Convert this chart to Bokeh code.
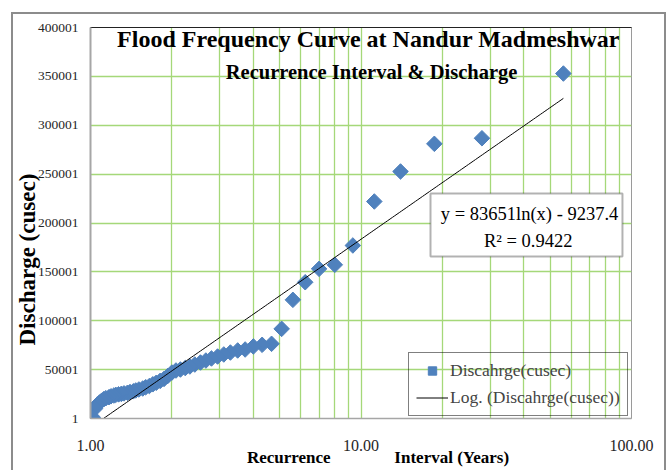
import numpy as np
from bokeh.plotting import figure
from bokeh.models import (FixedTicker, NumeralTickFormatter, Label, BoxAnnotation,
                          Legend, LegendItem, Range1d, LogAxis, Title)
from bokeh.embed import file_html
from bokeh.resources import INLINE

# ---------------- data ----------------
recurrence = [56.00, 28.00, 18.67, 14.00, 11.20, 9.33, 8.00, 7.00, 6.22, 5.60,
              5.09, 4.67, 4.31, 4.00, 3.73, 3.50, 3.29, 3.11, 2.95, 2.80,
              2.67, 2.55, 2.43, 2.33, 2.24, 2.15, 2.07, 2.00, 1.93, 1.87,
              1.81, 1.75, 1.70, 1.65, 1.60, 1.56, 1.51, 1.47, 1.44, 1.40,
              1.37, 1.33, 1.30, 1.27, 1.24, 1.22, 1.19, 1.17, 1.14, 1.12,
              1.10, 1.08, 1.06, 1.04, 1.02]
discharge = [352900, 286700, 281000, 252700, 222000, 177000, 157200, 153100, 139400, 121400,
             91700, 76400, 75400, 73700, 70600, 69600, 67500, 65500, 63400, 61400,
             59300, 57300, 55200, 53200, 51600, 50100, 49100, 47000, 43500, 40500,
             38500, 36500, 35000, 33200, 32000, 30700, 29700, 28700, 27800, 27000,
             26300, 25700, 25200, 24700, 24200, 23500, 22700, 21800, 20800, 19800,
             18200, 16400, 14300, 10200, 1200]
y_ticks = [1, 50001, 100001, 150001, 200001, 250001, 300001, 350001, 400001]
x_ticks = [1, 10, 100]
x_minor = [2, 3, 4, 5, 6, 7, 8, 9, 20, 30, 40, 50, 60, 70, 80, 90]
trend_a = 83651
trend_b = -9237.4
r_squared = 0.9422

SERIF = "Liberation Serif"
GRID = "#a5d879"
BLUE = "#4F81BD"
NB = "\u00a0"

p = figure(width=651, height=456, x_axis_type="log",
           x_range=Range1d(1, 100), y_range=Range1d(1, 400001),
           output_backend="svg", toolbar_location=None,
           min_border_left=77, min_border_top=13, min_border_right=33, min_border_bottom=52)
p.margin = (14, 0, 0, 13)
p.styles = {"outline": "2px solid #8c8c8c"}
p.background_fill_color = "white"
p.border_fill_color = "white"
p.outline_line_color = "#9a9a9a"
p.outline_line_width = 1

# axes
p.xaxis.ticker = FixedTicker(ticks=x_ticks, minor_ticks=x_minor)
p.xaxis.formatter = NumeralTickFormatter(format="0.00")
p.yaxis.ticker = FixedTicker(ticks=y_ticks)
p.yaxis.formatter = NumeralTickFormatter(format="0")
for ax in (p.xaxis, p.yaxis):
    ax.major_tick_line_color = None
    ax.minor_tick_line_color = None
    ax.major_tick_out = 0
    ax.major_tick_in = 0
    ax.major_label_text_font = SERIF
    ax.major_label_text_color = "#262626"
p.xaxis.axis_line_color = "#a6a6a6"
p.xaxis.axis_line_width = 1.5
p.yaxis.axis_line_color = "#a6a6a6"
p.yaxis.axis_line_width = 2
p.xaxis.major_label_text_font_size = "16px"
p.xaxis.major_label_standoff = 17
p.yaxis.major_label_text_font_size = "13.5px"
p.yaxis.major_label_standoff = 12

# x-axis title: two pieces around the "10.00" tick label
p.xaxis.axis_label = NB * 8 + "Recurrence" + NB * 15 + "Interval (Years)"
p.xaxis.axis_label_text_font = SERIF
p.xaxis.axis_label_text_font_style = "bold"
p.xaxis.axis_label_text_font_size = "17px"
p.xaxis.axis_label_text_color = "black"
p.xaxis.axis_label_standoff = -6

# y-axis title
p.add_layout(Title(text="Discharge (cusec)", align="left", offset=73, standoff=-11,
                   text_font=SERIF, text_font_style="bold", text_font_size="23px",
                   text_color="black"), "left")

top_axis = LogAxis(ticker=FixedTicker(ticks=[]), axis_line_color="#222222", axis_line_width=1,
                   major_tick_line_color=None, minor_tick_line_color=None,
                   major_label_text_font_size="0px")
p.add_layout(top_axis, "above")

# grid
p.xgrid.grid_line_color = GRID
p.xgrid.grid_line_width = 1.3
p.xgrid.minor_grid_line_color = GRID
p.xgrid.minor_grid_line_width = 1.3
p.ygrid.grid_line_color = GRID
p.ygrid.grid_line_width = 1.3

# data
sc = p.scatter(recurrence, discharge, marker="square", angle=np.pi / 4, size=11,
               fill_color=BLUE, line_color=BLUE)
x0 = np.exp((1 - trend_b) / trend_a)
tx = np.geomspace(x0, max(recurrence), 200)
ty = trend_a * np.log(tx) + trend_b
ln = p.line(tx, ty, line_color="black", line_width=1)

legend = Legend(items=[LegendItem(label="Discahrge(cusec)", renderers=[sc]),
                       LegendItem(label="Log. (Discahrge(cusec))", renderers=[ln])],
                location=(318, 2), border_line_color="black", border_line_width=1.5,
                background_fill_alpha=0, label_text_font=SERIF, label_text_font_size="17.5px",
                glyph_width=32, glyph_height=21, label_height=21, padding=7, spacing=6,
                label_standoff=2, margin=0)
p.add_layout(legend)

# equation box
p.add_layout(BoxAnnotation(left=18.07, right=92.6, top=230200, bottom=165700,
                           fill_color="white", fill_alpha=1, line_color="black", line_width=2))
p.add_layout(Label(x=42.0, y=209500, text=f"y = {trend_a}ln(x) - {abs(trend_b)}",
                   text_align="center", text_baseline="middle", text_font=SERIF,
                   text_font_size="18.5px", text_color="black"))
p.add_layout(Label(x=41.5, y=181500, text=f"R\u00b2 = {r_squared}",
                   text_align="center", text_baseline="middle", text_font=SERIF,
                   text_font_size="18.5px", text_color="black"))

# titles
p.add_layout(Label(x=10.66, y=388700, text="Flood Frequency Curve at Nandur Madmeshwar",
                   text_align="center", text_baseline="middle", text_font=SERIF,
                   text_font_style="bold", text_font_size="24px", text_color="black"))
p.add_layout(Label(x=10.94, y=354000, text="Recurrence Interval & Discharge",
                   text_align="center", text_baseline="middle", text_font=SERIF,
                   text_font_style="bold", text_font_size="20.5px", text_color="black"))

open("out.html", "w").write(file_html(p, INLINE))
